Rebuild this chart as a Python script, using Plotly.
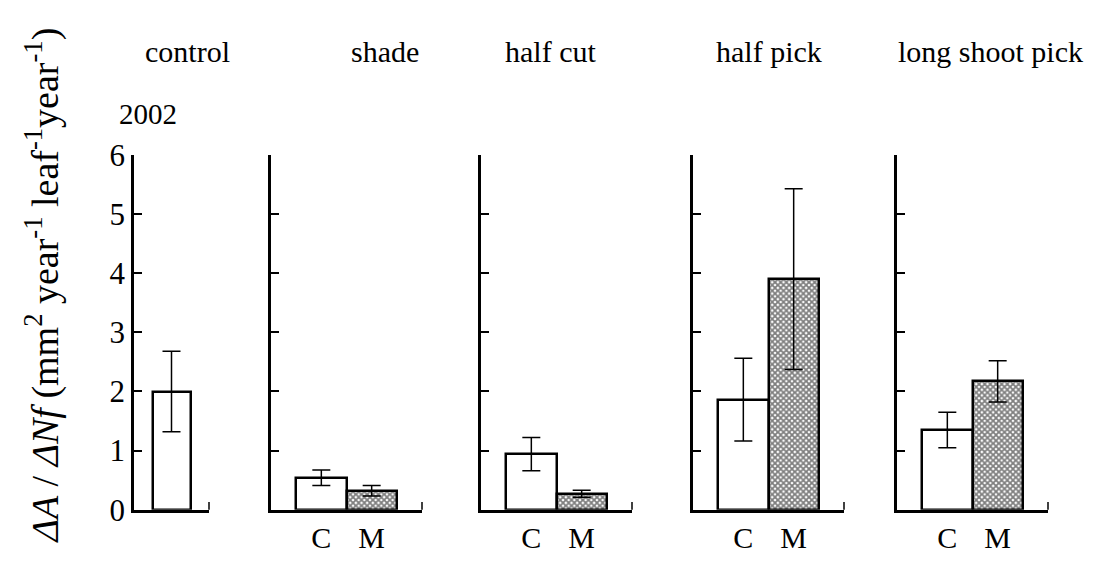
import plotly.graph_objects as go

# ---- data ----
groups = ["control", "shade", "half cut", "half pick", "long shoot pick"]
bar_labels = ["C", "M"]
c_vals = [2.00, 0.54, 0.94, 1.86, 1.35]
c_errs = [0.68, 0.13, 0.28, 0.70, 0.30]
m_vals = [None, 0.32, 0.27, 3.90, 2.17]
m_errs = [None, 0.09, 0.06, 1.53, 0.35]
year_label = "2002"
y_ticks = [0, 1, 2, 3, 4, 5, 6]

W, H = 1096, 569
FONT = "Liberation Serif"

# panel placement (pixels) -> paper fractions
panel_px = [(134, 209), (271, 422), (481, 632), (693, 844), (897, 1048)]
title_cx = [187, 385, 550, 769, 990]
y_top_px, y_bot_px = 147, 525
ydom = [1 - y_bot_px / H, 1 - y_top_px / H]

fig = go.Figure()
annotations = []
shapes = []

for i, g in enumerate(groups):
    ax = "" if i == 0 else str(i + 1)
    xref, yref = "x" + ax, "y" + ax
    if m_vals[i] is None:
        fig.add_trace(go.Bar(
            x=[0], y=[c_vals[i]], width=0.76,
            marker=dict(color="white", line=dict(color="black", width=2.5)),
            error_y=dict(type="data", array=[c_errs[i]], color="black",
                         thickness=1.5, width=9),
            xaxis=xref, yaxis=yref, showlegend=False))
        xaxis_cfg = dict(range=[-0.75, 0.75], showticklabels=False)
    else:
        fig.add_trace(go.Bar(
            x=bar_labels, y=[c_vals[i], m_vals[i]], width=1.0,
            marker=dict(color="white", line=dict(color="black", width=2.5),
                        pattern=dict(shape=["", "x"], fgcolor="black",
                                     bgcolor="white", size=4, solidity=0.7)),
            error_y=dict(type="data", array=[c_errs[i], m_errs[i]],
                         color="black", thickness=1.5, width=9),
            xaxis=xref, yaxis=yref, showlegend=False))
        xaxis_cfg = dict(range=[-1, 2], type="category", showticklabels=True)

    x0, x1 = panel_px[i]
    fig.update_layout(**{
        "xaxis" + ax: dict(domain=[x0 / W, x1 / W], anchor=yref,
                           showline=True, linewidth=2.5, linecolor="black",
                           ticks="", showgrid=False, zeroline=False,
                           tickfont=dict(family=FONT, size=30, color="black"),
                           fixedrange=True, **xaxis_cfg),
        "yaxis" + ax: dict(domain=ydom, anchor=xref, range=[0, 6],
                           tickvals=y_ticks, ticks="inside", ticklen=8,
                           tickwidth=1.5, tickcolor="black",
                           showline=True, linewidth=2.5, linecolor="black",
                           showgrid=False, zeroline=False,
                           showticklabels=(i == 0),
                           tickfont=dict(family=FONT, size=31, color="black"),
                           fixedrange=True),
    })
    # small upward tick at right end of x-axis
    shapes.append(dict(type="line", xref=xref + " domain", yref=yref + " domain",
                       x0=1, x1=1, y0=0, y1=0.022,
                       line=dict(color="black", width=1.5)))
    annotations.append(dict(text=g, x=title_cx[i] / W, y=1 - 37 / H,
                            xref="paper", yref="paper", showarrow=False,
                            xanchor="center", yanchor="middle",
                            font=dict(family=FONT, size=30, color="black")))

annotations.append(dict(text=year_label, x=148 / W, y=1 - 103 / H,
                        xref="paper", yref="paper", showarrow=False,
                        xanchor="center", yanchor="middle",
                        font=dict(family=FONT, size=29, color="black")))
annotations.append(dict(
    text="<i>ΔA</i> / <i>ΔNf</i> (mm<sup>2</sup> year<sup>-1</sup> leaf<sup>-1</sup>year<sup>-1</sup>)",
    x=42 / W, y=1 - 286 / H, xref="paper", yref="paper", showarrow=False,
    textangle=-90, xanchor="center", yanchor="middle",
    font=dict(family=FONT, size=38, color="black")))

fig.update_layout(
    width=W, height=H, margin=dict(l=0, r=0, t=0, b=0),
    font=dict(family=FONT, color="black"),
    paper_bgcolor="white", plot_bgcolor="white",
    barmode="overlay", bargap=0,
    annotations=annotations, shapes=shapes, showlegend=False,
)

fig.write_html("out.html", config={"displayModeBar": False})
